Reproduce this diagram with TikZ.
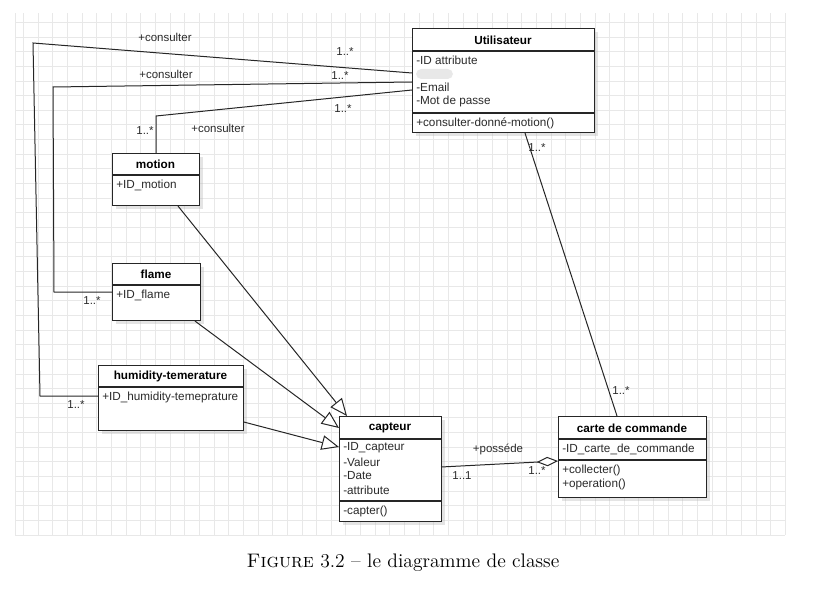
\documentclass[tikz,border=0pt]{standalone}
\usepackage{fontspec}
\newfontfamily\arialf{Liberation Sans}
\usetikzlibrary{calc,arrows.meta,shadows}
\definecolor{txt}{HTML}{2A2A2A}
\definecolor{gridc}{HTML}{E8E8E8}
\tikzset{
  umlbox/.style={draw=black!85, line width=0.8pt, fill=white, inner sep=0pt, anchor=north west,
    drop shadow={shadow xshift=2.5pt, shadow yshift=-2.5pt, fill=black!30, opacity=0.35}},
  sep/.style={draw=black!85, line width=0.8pt},
  ttl/.style={font=\arialf\fontsize{8.8}{10}\selectfont\bfseries, text=black, inner sep=0pt},
  attr/.style={font=\arialf\fontsize{8.8}{10}\selectfont, text=txt, inner sep=0pt, anchor=west},
  lbl/.style={font=\arialf\fontsize{8.6}{10}\selectfont, text=txt, inner sep=0pt},
  conn/.style={draw=black!85, line width=0.75pt},
  inh/.style={conn, -{Triangle[open, length=13pt, width=11pt, fill=white]}},
  agg/.style={conn, -{Diamond[open, length=16pt, width=7pt, fill=white]}},
}
\newcommand{\umlcls}[5]{\node[umlbox, minimum width=#4*0.75pt, minimum height=#5*0.75pt] (#1) at (#2,#3) {};}
\begin{document}
\begin{tikzpicture}[x=0.75pt, y=-0.75pt]
\useasboundingbox (0,0) rectangle (813,602);
% grid
\foreach \i in {0,...,52} {\draw[gridc, line width=0.5pt] (23.5+\i*14.65,13) -- (23.5+\i*14.65,535);}
\foreach \j in {0,...,35} {\draw[gridc, line width=0.5pt] (15,535-\j*14.65) -- (785,535-\j*14.65);}
\draw[gridc, line width=0.5pt] (15,13) -- (15,535);

\coordinate (b1) at (33,43);
\coordinate (b2) at (40,396);
\coordinate (b3) at (53,87);
\coordinate (b4) at (54,292);
\coordinate (b5) at (156,116);

% classes
\umlcls{util}{412}{28}{182}{104}
\umlcls{motion}{112}{153}{87}{52}
\umlcls{flame}{112}{263}{88}{57}
\umlcls{hum}{98}{365}{145}{65}
\umlcls{capt}{339}{416}{102}{105}
\umlcls{carte}{558}{416}{148}{81}

% separators
\draw[sep] ($(util.north west)+(0,23)$) -- ++(182,0);
\draw[sep] ($(util.north west)+(0,85)$) -- ++(182,0);
\draw[sep] ($(motion.north west)+(0,22)$) -- ++(87,0);
\draw[sep] ($(flame.north west)+(0,22)$) -- ++(88,0);
\draw[sep] ($(hum.north west)+(0,22)$) -- ++(145,0);
\draw[sep] ($(capt.north west)+(0,23)$) -- ++(102,0);
\draw[sep] ($(capt.north west)+(0,85)$) -- ++(102,0);
\draw[sep] ($(carte.north west)+(0,23)$) -- ++(148,0);
\draw[sep] ($(carte.north west)+(0,44)$) -- ++(148,0);

% texts
\node[ttl] (tu) at (503,40) {Utilisateur};
\node[attr] (u1) at (416,60) {-ID attribute};
\fill[gray!18, rounded corners=4pt] (416,69) rectangle (453,79);
\node[attr] (u2) at (416,87) {-Email};
\node[attr] (u3) at (416,101) {-Mot de passe};
\node[attr] (u4) at (416,123) {+consulter-donné-motion()};

\node[ttl] (tm) at (155.5,164) {motion};
\node[attr] (m1) at (116,185) {+ID\_motion};

\node[ttl] (tf) at (156,274) {flame};
\node[attr] (f1) at (116,295) {+ID\_flame};

\node[ttl] (th) at (170.5,376) {humidity-temerature};
\node[attr] (h1) at (102,397) {+ID\_humidity-temeprature};

\node[ttl] (tc) at (390,428) {capteur};
\node[attr] (c1) at (343,448) {-ID\_capteur};
\node[attr] (c2) at (343,462) {-Valeur};
\node[attr] (c3) at (343,476) {-Date};
\node[attr] (c4) at (343,490) {-attribute};
\node[attr] (c5) at (343,511) {-capter()};

\node[ttl] (tk) at (632,428) {carte de commande};
\node[attr] (k1) at (562,449) {-ID\_carte\_de\_commande};
\node[attr] (k2) at (562,470) {+collecter()};
\node[attr] (k3) at (562,484) {+operation()};

% associations
\draw[conn] ($(util.north west)+(0,45)$) -- (b1) -- (b2) -- ($(hum.north west)+(0,31)$);
\draw[conn] ($(util.north west)+(0,54)$) -- (b3) -- (b4) -- ($(flame.north west)+(0,29)$);
\draw[conn] ($(util.north west)+(0,62)$) -- (b5) -- ($(motion.north west)+(44,0)$);
\draw[conn] ($(util.south west)+(113,0)$) -- ($(carte.north west)+(59,0)$);
\draw[inh] ($(motion.south west)+(66,0)$) -- ($(capt.north west)+(8,0)$);
\draw[inh] ($(flame.south west)+(83,0)$) -- ($(capt.north west)+(0,12)$);
\draw[inh] ($(hum.south east)+(0,-9)$) -- ($(capt.north west)+(0,31)$);
\draw[agg] ($(capt.north west)+(102,51)$) -- ($(carte.north west)+(0,45)$);

% labels
\node[lbl] (l1) at (165,37) {+consulter};
\node[lbl] (l2) at (345,52) {1..*};
\node[lbl] (l3) at (166,74) {+consulter};
\node[lbl] (l4) at (340,76) {1..*};
\node[lbl] (l5) at (218,128) {+consulter};
\node[lbl] (l6) at (343,109) {1..*};
\node[lbl] (l7) at (145,131) {1..*};
\node[lbl] (l8) at (92,301) {1..*};
\node[lbl] (l9) at (76,405) {1..*};
\node[lbl] (l10) at (537,148) {1..*};
\node[lbl] (l11) at (621,391) {1..*};
\node[lbl] (l12) at (498,449) {+posséde};
\node[lbl] (l13) at (462,476) {1..1};
\node[lbl] (l14) at (537,471) {1..*};

% caption
\node[font=\fontsize{14.7}{17}\selectfont, inner sep=0pt] (cap) at (403,563) {\textsc{Figure} 3.2 -- le diagramme de classe};
\end{tikzpicture}
\end{document}
